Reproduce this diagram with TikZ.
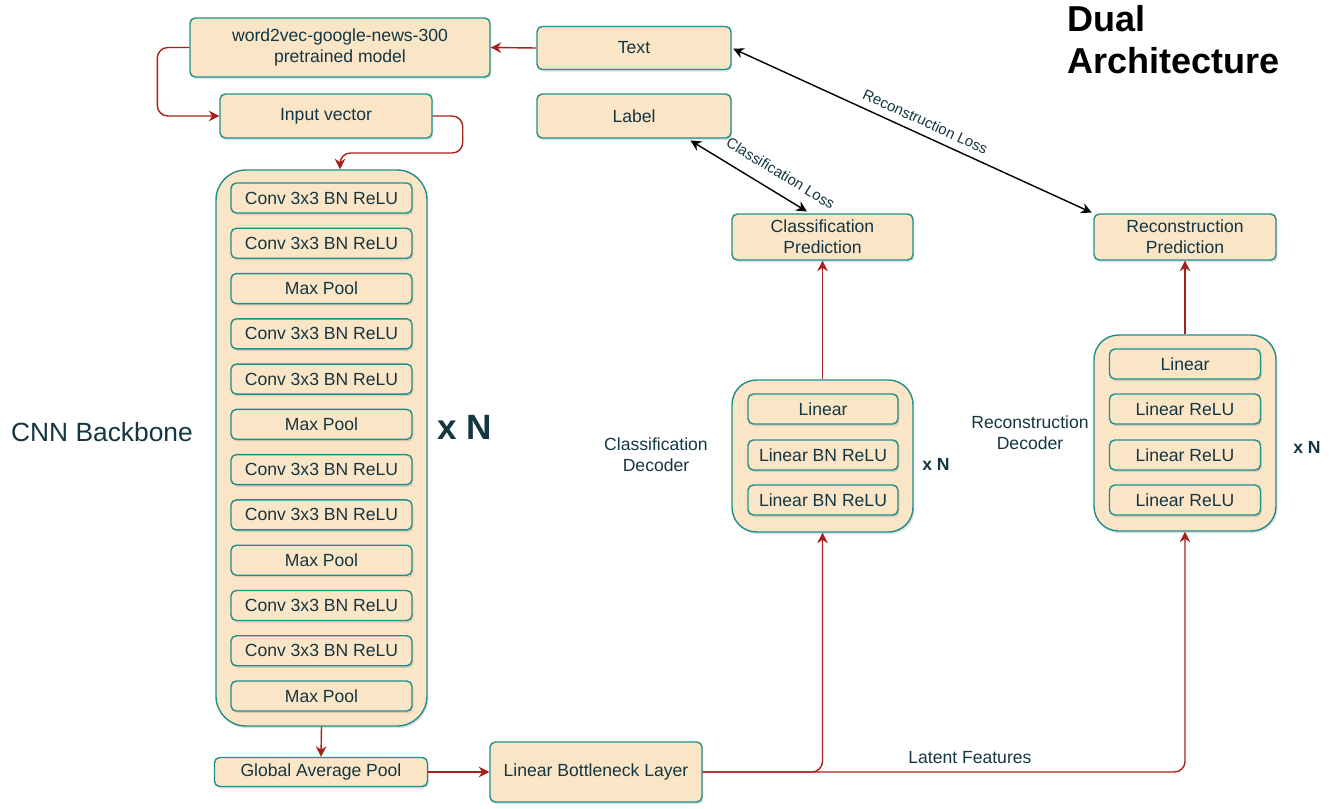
\documentclass[tikz,border=0pt]{standalone}
\usepackage{fontspec}
\setmainfont{Liberation Sans}
\usepackage{xcolor}
\usepackage{tikz}
\usetikzlibrary{positioning, arrows.meta, shadows}

\definecolor{boxfill}{HTML}{FAE5C7}
\definecolor{boxline}{HTML}{1F8F8C}
\definecolor{ink}{HTML}{143642}
\definecolor{flowred}{HTML}{A8201A}

\begin{document}
\begin{tikzpicture}[>=Stealth, line width=0.8pt,
    every node/.style={text=ink, font=\fontsize{10}{12}\selectfont},
    blk/.style={draw=boxline, fill=boxfill, rounded corners=3pt, inner sep=0pt, align=center,
                drop shadow={opacity=0.25, shadow xshift=0.8pt, shadow yshift=-1.2pt}},
    grp/.style={blk, rounded corners=14pt},
    lyr/.style={blk, minimum height=0.6cm},
    flow/.style={->, draw=flowred, rounded corners=6pt, -{Stealth[length=6pt,width=6pt]}},
    loss/.style={draw=black, {Stealth[length=6pt,width=6pt]}-{Stealth[length=6pt,width=6pt]}}
  ]
  \useasboundingbox (0,0) rectangle (26.76,-16.16);

  % inputs
  \node[blk, minimum width=6.0cm, minimum height=1.18cm] (w2v) at (6.80,-0.95)
    {word2vec-google-news-300\\pretrained model};
  \node[blk, minimum width=3.88cm, minimum height=0.86cm] (text) at (12.68,-0.96) {Text};
  \node[blk, minimum width=4.24cm, minimum height=0.88cm] (inp) at (6.52,-2.32) {Input vector};
  \node[blk, minimum width=3.88cm, minimum height=0.88cm] (label) at (12.68,-2.32) {Label};

  % CNN backbone
  \node[grp, rounded corners=17pt, minimum width=4.22cm, minimum height=11.12cm] (cnn) at (6.43,-8.96) {};
  \foreach \t [count=\i] in {Conv 3x3 BN ReLU, Conv 3x3 BN ReLU, Max Pool,
                            Conv 3x3 BN ReLU, Conv 3x3 BN ReLU, Max Pool,
                            Conv 3x3 BN ReLU, Conv 3x3 BN ReLU, Max Pool,
                            Conv 3x3 BN ReLU, Conv 3x3 BN ReLU, Max Pool}
    \node[lyr, minimum width=3.62cm] (c\i) at (6.43,{-3.96-(\i-1)*0.9055}) {\t};
  \node[font=\fontsize{20}{24}\selectfont\bfseries] (cnnrep) at (9.30,-8.54) {x N};
  \node[font=\fontsize{15}{18}\selectfont] (cnnname) at (2.04,-8.64) {CNN Backbone};

  \node[blk, minimum width=4.26cm, minimum height=0.58cm] (gap) at (6.42,-15.44) {Global Average Pool};
  \node[blk, minimum width=4.24cm, minimum height=1.20cm] (lbl) at (11.92,-15.44) {Linear Bottleneck Layer};

  % classification branch
  \node[grp, minimum width=3.62cm, minimum height=3.04cm] (cdec) at (16.45,-9.12) {};
  \foreach \t/\y [count=\i] in {Linear/-8.18, Linear BN ReLU/-9.10, Linear BN ReLU/-10.00}
    \node[lyr, minimum width=3.0cm] (cd\i) at (16.46,\y) {\t};
  \node[blk, minimum width=3.62cm, minimum height=0.92cm] (cpred) at (16.45,-4.74)
    {Classification\\Prediction};
  \node[align=center] (cdecname) at (13.12,-9.10) {Classification\\Decoder};
  \node[font=\fontsize{10}{12}\selectfont\bfseries] (cdecrep) at (18.72,-9.28) {x N};

  % reconstruction branch
  \node[grp, minimum width=3.64cm, minimum height=3.92cm] (rdec) at (23.70,-8.66) {};
  \foreach \t/\y [count=\i] in {Linear/-7.28, Linear ReLU/-8.18, Linear ReLU/-9.10, Linear ReLU/-10.00}
    \node[lyr, minimum width=3.02cm] (rd\i) at (23.70,\y) {\t};
  \node[blk, minimum width=3.64cm, minimum height=0.92cm] (rpred) at (23.70,-4.74)
    {Reconstruction\\Prediction};
  \node[align=center] (rdecname) at (20.60,-8.66) {Reconstruction\\Decoder};
  \node[font=\fontsize{10}{12}\selectfont\bfseries] (rdecrep) at (26.14,-8.94) {x N};

  \node[anchor=north west, align=left, inner sep=0pt, text=black,
        font=\fontsize{20.5}{23.5}\selectfont\bfseries] (title) at (21.34,-0.10) {Dual\\Architecture};

  % data flow
  \coordinate (drop) at (6.80,-3.06);
  \draw[flow] (text.west) -- (w2v.east);
  \draw[flow] (w2v.west) -- ++(-0.64,0) |- (inp.west);
  \draw[flow] (inp.east) -- ++(0.60,0) |- (drop) -- (drop |- cnn.north);
  \draw[flow] (cnn.south) -- (gap.north);
  \draw[flow] (gap.east) -- (lbl.west);
  \draw[flow] (lbl.east) -| (cdec.south);
  \draw[flow] (lbl.east) -| node[pos=0.277, above=1pt] (latent) {Latent Features} (rdec.south);
  \draw[flow] (cdec.north) -- (cpred.south);
  \draw[flow] (rdec.north) -- (rpred.south);

  % losses
  \draw[loss, shorten >=2pt, shorten <=2pt] (label.-23) --
    node[pos=0.68, sloped, above=4pt, font=\fontsize{8.5}{10}\selectfont] (closs) {Classification Loss} (cpred.118);
  \draw[loss, shorten >=1pt, shorten <=1pt] (text.east) --
    node[pos=0.52, sloped, above=1pt, font=\fontsize{8.5}{10}\selectfont] (rloss) {Reconstruction Loss} (rpred.north west);
\end{tikzpicture}
\end{document}
